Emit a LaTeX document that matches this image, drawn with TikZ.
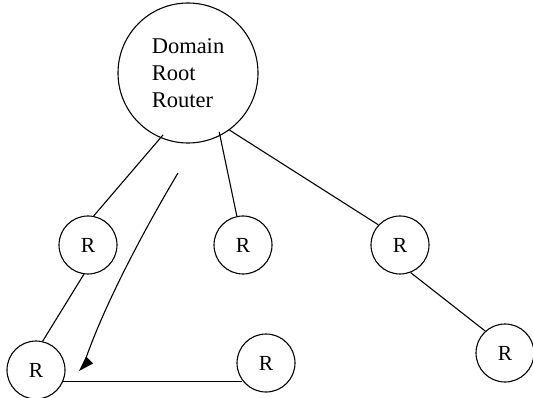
\documentclass[tikz,border=0pt]{standalone}
\usepackage{fontspec}
\setmainfont{Liberation Serif}

\tikzset{
  router/.style={circle, draw, line width=1.1pt, minimum size=58pt, inner sep=0pt,
    font=\fontsize{21.5}{27}\selectfont},
  rootrouter/.style={circle, draw, line width=1.1pt, minimum size=140pt, inner sep=0pt,
    align=left, font=\fontsize{22.5}{27}\selectfont},
  link/.style={line width=1.1pt},
  uplink/.style={link, shorten <=-4pt},
  flow/.style={line width=1.1pt},
  flowhead/.style={fill=black, line join=miter}
}

\begin{document}
\begin{tikzpicture}[x=1pt, y=-1pt]
  \useasboundingbox (0,0) rectangle (533,398);

  % routers
  \node[rootrouter] (root) at (188,73) {Domain\\Root\\Router};
  \node[router] (ra) at (88,245) {R};
  \node[router] (rb) at (243,245) {R};
  \node[router] (rc) at (400,245) {R};
  \node[router] (rd) at (36,370) {R};
  \node[router] (re) at (266,363) {R};
  \node[router] (rf) at (505,353) {R};

  % tree links
  \draw[uplink] (root.247) -- (ra.79);
  \draw[uplink] (root.297) -- (rb.102);
  \draw[link] (root.306) -- (rc.137);
  \draw[link] (rc.291) -- (rf.132);
  \draw[link] (ra.262) -- (rd.77);
  \draw[link] (rd.338) -- (rd.338 -| re.215);

  % message path down to the lower-left router
  \coordinate (flowstart) at (178,173);
  \coordinate (flowbend) at (86,358);
  \coordinate (flowend) at (79,371);
  \draw[flow] (flowstart) .. controls (150,220) and (108,296) .. (flowbend);
  \fill[flowhead] (flowend) -- ++(14,-7.5) -- ++(-7,-7) -- cycle;
\end{tikzpicture}
\end{document}
